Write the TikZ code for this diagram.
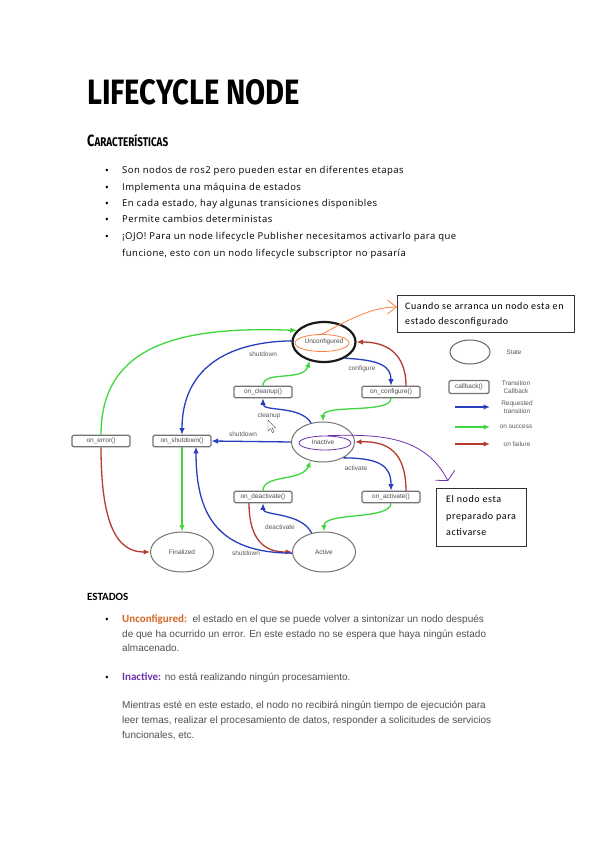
\documentclass[tikz,border=0pt]{standalone}
\usepackage{graphicx}
\usepackage{fontspec}
\setmainfont{Liberation Sans}
\newfontfamily\handfont[LetterSpace=5]{Open Sans}
\newfontfamily\notefont[LetterSpace=6]{Carlito}
\newfontfamily\docfont{Carlito}
\newfontfamily\brushfont{Fira Sans}
\usetikzlibrary{positioning,shapes.geometric,arrows.meta,calc}

\definecolor{reqblue}{RGB}{40,62,190}
\definecolor{okgreen}{RGB}{62,215,62}
\definecolor{failred}{RGB}{182,58,46}
\definecolor{penorange}{RGB}{250,128,64}
\definecolor{penpurple}{RGB}{112,52,170}
\definecolor{stateorange}{RGB}{214,104,38}
\definecolor{bodygray}{RGB}{80,80,80}

\begin{document}
\begin{tikzpicture}[
    x=1pt, y=-1pt,
    font=\fontsize{6.5}{7.5}\selectfont,
    state/.style={
        ellipse,
        draw=black!55,
        line width=1pt,
        minimum width=63pt,
        minimum height=40pt,
        inner sep=0pt,
        text=black!70
    },
    cb/.style={
        draw=black!55,
        rounded corners=1.5pt,
        line width=1.1pt,
        minimum width=58pt,
        minimum height=11.5pt,
        inner sep=0pt,
        text=black!70
    },
    lbl/.style={text=black!65, inner sep=0pt},
    req/.style={reqblue, line width=1.3pt, -{Latex[length=6.5pt,width=5.5pt]}},
    ok/.style={okgreen, line width=1.3pt, -{Latex[length=6.5pt,width=5.5pt]}},
    fail/.style={failred, line width=1.3pt, -{Latex[length=6.5pt,width=5.5pt]}},
    note/.style={
        draw=black!80,
        line width=0.8pt,
        inner sep=0pt,
        anchor=north west
    },
    hand/.style={anchor=base west, inner sep=0pt, font=\handfont\fontsize{9.5}{10}\selectfont},
    body/.style={anchor=base west, inner sep=0pt, text=bodygray, font=\fontsize{10}{11}\selectfont},
    dot/.style={anchor=base, inner sep=0pt, font=\fontsize{9}{10}\selectfont},
    notetxt/.style={anchor=base west, inner sep=0pt, font=\notefont\fontsize{10}{11}\selectfont}
]
\useasboundingbox[fill=white] (0,0) rectangle (599,848);

% heading
\node[anchor=west, inner sep=0pt] (title) at (87,92)
    {\resizebox{213pt}{25pt}{\brushfont\bfseries LIFECYCLE NODE}};
\node[anchor=south west, inner sep=0pt] (caract) at (87,147)
    {\resizebox{81pt}{12pt}{\brushfont\bfseries{\fontsize{11}{11}\selectfont C}\fontsize{8.5}{8.5}\selectfont ARACTERÍSTICAS}};

% bullet list
\foreach \y in {173,190,206,222,239}
    \node[dot] at (107,\y) {\textbullet};
\node[hand] (b1) at (122,173) {Son nodos de ros2 pero pueden estar en diferentes etapas};
\node[hand] (b2) at (122,190) {Implementa una máquina de estados};
\node[hand] (b3) at (122,206) {En cada estado, hay algunas transiciones disponibles};
\node[hand] (b4) at (122,222) {Permite cambios deterministas};
\node[hand] (b5) at (122,239) {¡OJO! Para un node lifecycle Publisher necesitamos activarlo para que};
\node[hand] (b6) at (122,256) {funcione, esto con un nodo lifecycle subscriptor no pasaría};

% states
\node[state, line width=2.2pt, draw=black!90] (unc) at (324,342) {Unconfigured};
\node[state] (ina) at (323,442) {Inactive};
\node[state] (act) at (324,552) {Active};
\node[state] (fin) at (182,552) {Finalized};

% transition callbacks
\node[cb] (clean) at (263,392) {on\_cleanup()};
\node[cb] (conf) at (391,392) {on\_configure()};
\node[cb] (err) at (101,441) {on\_error()};
\node[cb] (shut) at (182,441) {on\_shutdown()};
\node[cb] (deact) at (263,497) {on\_deactivate()};
\node[cb] (activ) at (391,497) {on\_activate()};

% transitions
\draw[ok] (err.north) .. controls (101,345) and (180,326) .. (unc.157);
\draw[req] (unc.178) .. controls (225,342) and (182,370) .. (shut.north);
\draw[ok] (clean.north) .. controls (263,370) and (303,382) .. (unc.233);
\draw[req] (ina.122) .. controls (300,405) and (263,412) .. (clean.south);
\draw[req] (unc.-38) .. controls (380,360) and (391,366) .. (conf.north);
\draw[fail] (406,386.2) .. controls (406,352) and (385,342) .. (unc.east);
\draw[ok] (conf.south) .. controls (391,414) and (323,404) .. (ina.north);
\draw[req] (ina.west) -- (shut.east);
\draw[req] (ina.-38) .. controls (380,458) and (391,466) .. (activ.north);
\draw[fail] (406,491.2) .. controls (406,452) and (388,441) .. (ina.east);
\draw[ok] (activ.south) .. controls (391,520) and (324,512) .. (act.north);
\draw[ok] (deact.north) .. controls (263,474) and (302,482) .. (ina.237);
\draw[req] (act.123) .. controls (301,512) and (263,516) .. (deact.south);
\draw[fail] (249,502.8) .. controls (249,548) and (272,552) .. (act.west);
\draw[req] (act.182) .. controls (215,553) and (196,512) .. (196,446.8);
\draw[ok] (shut.south) -- (fin.north);
\draw[fail] (err.south) .. controls (101,535) and (122,552) .. (fin.west);

% transition labels
\node[lbl] (lshut1) at (263,354) {shutdown};
\node[lbl] (lconf) at (362,369) {configure};
\node[lbl] (lclean) at (269,416) {cleanup};
\node[lbl] (lshut2) at (243,434) {shutdown};
\node[lbl] (lactiv) at (356,468) {activate};
\node[lbl] (ldeact) at (280,527) {deactivate};
\node[lbl] (lshut3) at (246,553) {shutdown};

% mouse pointer
\draw[black!70, fill=white, line width=0.4pt]
    (268,420) -- (268,431) -- (270.5,428.6) -- (272.4,432.6) -- (274,431.8)
    -- (272.2,428) -- (275.5,428) -- cycle;

% legend
\node[state, draw=black!60, minimum width=40pt, minimum height=24pt] (lgstate) at (470,352) {};
\node[lbl] (lgstatetxt) at (514,352) {State};
\node[cb, minimum width=40pt, minimum height=13pt] (lgcb) at (469,387) {callback()};
\node[lbl, align=center] (lgcbtxt) at (516,387) {Transition\\Callback};
\coordinate (lgreqa) at (455,407);
\coordinate (lgreqb) at (490,407);
\coordinate (lgoka) at (455,427);
\coordinate (lgokb) at (490,427);
\coordinate (lgfaila) at (455,444);
\coordinate (lgfailb) at (490,444);
\draw[req] (lgreqa) -- (lgreqb);
\draw[ok] (lgoka) -- (lgokb);
\draw[fail] (lgfaila) -- (lgfailb);
\node[lbl, align=center] (lgreqtxt) at (517,407) {Requested\\transition};
\node[lbl] (lgoktxt) at (516,427) {on success};
\node[lbl] (lgfailtxt) at (517,444) {on failure};

% handwritten notes
\node[note, minimum width=177pt, minimum height=37pt] (note1) at (397,295) {};
\node[notetxt] (n1a) at (405,309) {Cuando se arranca un nodo esta en};
\node[notetxt] (n1b) at (405,324) {estado desconfigurado};

\node[note, minimum width=90pt, minimum height=58pt] (note2) at (436,488) {};
\node[notetxt] (n2a) at (446,502) {El nodo esta};
\node[notetxt] (n2b) at (446,519) {preparado para};
\node[notetxt] (n2c) at (446,535) {activarse};

\node[ellipse, draw=penorange, line width=0.8pt, minimum width=54pt, minimum height=17pt, inner sep=0pt] (loopunc) at (322,343) {};
\draw[penorange, line width=0.8pt, -{Straight Barb[length=9pt,width=14pt]}]
    (loopunc.north) .. controls (345,322) and (370,307) .. (note1.west |- 0,307);

\node[ellipse, draw=penpurple, line width=0.8pt, minimum width=52pt, minimum height=14pt, inner sep=0pt] (loopina) at (325,443) {};
\coordinate (pendown) at (448,481);
\draw[penpurple, line width=0.8pt, -{Straight Barb[length=6pt,width=22pt]}]
    (loopina.70) .. controls (380,434) and (425,436) .. (pendown);

% estados section
\node[anchor=base west, inner sep=0pt, font=\docfont\bfseries\fontsize{11}{12}\selectfont] (estados) at (87,600) {ESTADOS};
\node[dot] at (107,622) {\textbullet};
\node[body] (u1) at (122,622) {{\docfont\bfseries\fontsize{11}{12}\selectfont\color{stateorange}Unconfigured:}\ \ el estado en el que se puede volver a sintonizar un nodo después};
\node[body] (u2) at (122,637) {de que ha ocurrido un error. En este estado no se espera que haya ningún estado};
\node[body] (u3) at (122,651) {almacenado.};

\node[dot] at (107,680) {\textbullet};
\node[body] (i1) at (122,680) {{\docfont\bfseries\fontsize{11}{12}\selectfont\color{penpurple}Inactive:} no está realizando ningún procesamiento.};
\node[body] (i2) at (122,708) {Mientras esté en este estado, el nodo no recibirá ningún tiempo de ejecución para};
\node[body] (i3) at (122,723) {leer temas, realizar el procesamiento de datos, responder a solicitudes de servicios};
\node[body] (i4) at (122,738) {funcionales, etc.};

\end{tikzpicture}
\end{document}
